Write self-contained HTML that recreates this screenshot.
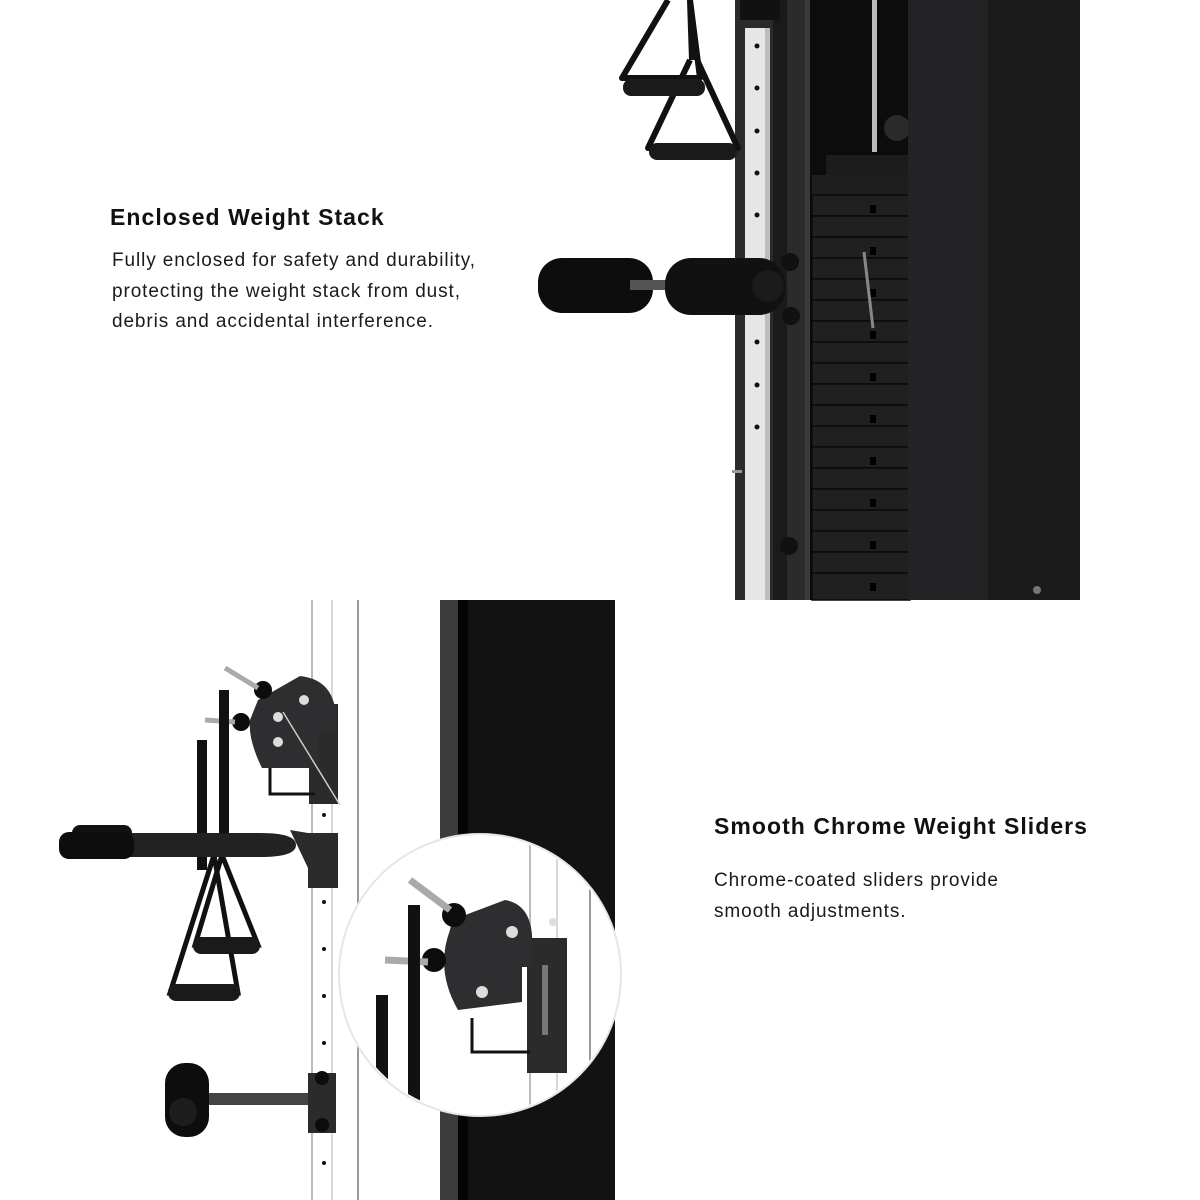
<!DOCTYPE html>
<html><head><meta charset="utf-8"><style>
html,body{margin:0;padding:0;background:#fff;}
.wrap{position:relative;width:1200px;height:1200px;overflow:hidden;background:#fff;font-family:"Liberation Sans",sans-serif;color:#111;}
svg{position:absolute;left:0;top:0;}
.h{position:absolute;font-size:23px;font-weight:bold;letter-spacing:1.05px;white-space:nowrap;}
.p{position:absolute;font-size:19px;line-height:30.5px;white-space:nowrap;color:#1a1a1a;letter-spacing:0.9px;}
</style></head><body><div class="wrap">
<svg width="1200" height="1200" viewBox="0 0 1200 1200">
<rect x="735" y="0" width="75" height="600" fill="#2b2b2d"/>
<rect x="745" y="28" width="25" height="572" fill="#e6e6e6"/>
<rect x="765" y="28" width="5" height="572" fill="#bdbdbd"/>
<rect x="773" y="0" width="14" height="600" fill="#1a1a1a"/>
<rect x="740" y="0" width="40" height="20" fill="#111"/>
<g fill="#111">
<circle cx="757" cy="46" r="2.5"/><circle cx="757" cy="88" r="2.5"/><circle cx="757" cy="131" r="2.5"/><circle cx="757" cy="173" r="2.5"/><circle cx="757" cy="215" r="2.5"/><circle cx="757" cy="300" r="2.5"/><circle cx="757" cy="342" r="2.5"/><circle cx="757" cy="385" r="2.5"/><circle cx="757" cy="427" r="2.5"/>
</g>
<rect x="805" y="0" width="5" height="600" fill="#3a3a3c"/>
<rect x="810" y="0" width="100" height="600" fill="#0c0c0c"/>
<rect x="872" y="0" width="5" height="152" fill="#bbb"/>
<circle cx="897" cy="128" r="13" fill="#2a2a2a"/>
<rect x="826" y="155" width="84" height="20" fill="#1c1c1c"/>
<rect x="812" y="175" width="98" height="20" fill="#1e1e1e"/>
<g fill="#202020" stroke="#0a0a0a" stroke-width="1.5">
<rect x="812" y="195" width="98" height="21"/><rect x="812" y="216" width="98" height="21"/><rect x="812" y="237" width="98" height="21"/><rect x="812" y="258" width="98" height="21"/><rect x="812" y="279" width="98" height="21"/><rect x="812" y="300" width="98" height="21"/><rect x="812" y="321" width="98" height="21"/><rect x="812" y="342" width="98" height="21"/><rect x="812" y="363" width="98" height="21"/><rect x="812" y="384" width="98" height="21"/><rect x="812" y="405" width="98" height="21"/><rect x="812" y="426" width="98" height="21"/><rect x="812" y="447" width="98" height="21"/><rect x="812" y="468" width="98" height="21"/><rect x="812" y="489" width="98" height="21"/><rect x="812" y="510" width="98" height="21"/><rect x="812" y="531" width="98" height="21"/><rect x="812" y="552" width="98" height="21"/><rect x="812" y="573" width="98" height="27"/>
</g>
<g fill="#000"><rect x="870" y="205" width="6" height="8"/><rect x="870" y="247" width="6" height="8"/><rect x="870" y="289" width="6" height="8"/><rect x="870" y="331" width="6" height="8"/><rect x="870" y="373" width="6" height="8"/><rect x="870" y="415" width="6" height="8"/><rect x="870" y="457" width="6" height="8"/><rect x="870" y="499" width="6" height="8"/><rect x="870" y="541" width="6" height="8"/><rect x="870" y="583" width="6" height="8"/></g>
<line x1="864" y1="252" x2="873" y2="328" stroke="#888" stroke-width="3"/>
<rect x="908" y="0" width="80" height="600" fill="#232325"/>
<rect x="988" y="0" width="92" height="600" fill="#1b1b1c"/>
<circle cx="1037" cy="590" r="4" fill="#777"/>
<g stroke="#111" stroke-width="6" fill="none" stroke-linejoin="round">
<path d="M668 0 L622 78 L700 78 L690 0"/>
<path d="M690 60 L648 148 L738 148 L698 62"/>
<line x1="690" y1="0" x2="692" y2="60"/>
</g>
<rect x="623" y="79" width="82" height="17" rx="8" fill="#1a1a1a"/>
<rect x="649" y="143" width="88" height="17" rx="8" fill="#1a1a1a"/>
<rect x="538" y="258" width="115" height="55" rx="24" fill="#0d0d0d"/>
<rect x="630" y="280" width="45" height="10" fill="#555"/>
<rect x="665" y="258" width="120" height="57" rx="26" fill="#111"/>
<circle cx="768" cy="286" r="16" fill="#1b1b1b"/>
<circle cx="790" cy="262" r="9" fill="#111"/><circle cx="791" cy="316" r="9" fill="#111"/><circle cx="789" cy="546" r="9" fill="#111"/>
<rect x="732" y="470" width="10" height="3" fill="#999"/>

<line x1="312" y1="600" x2="312" y2="1200" stroke="#bbb" stroke-width="2"/>
<line x1="332" y1="600" x2="332" y2="1200" stroke="#ccc" stroke-width="1.5"/>
<line x1="358" y1="600" x2="358" y2="1200" stroke="#999" stroke-width="2"/>
<g fill="#111"><circle cx="324" cy="815" r="2"/><circle cx="324" cy="902" r="2"/><circle cx="324" cy="949" r="2"/><circle cx="324" cy="996" r="2"/><circle cx="324" cy="1043" r="2"/><circle cx="324" cy="1163" r="2"/></g>
<rect x="440" y="600" width="175" height="600" fill="#121212"/>
<rect x="440" y="600" width="18" height="600" fill="#3c3c3e"/>
<rect x="458" y="600" width="10" height="600" fill="#050505"/>
<rect x="309" y="704" width="29" height="100" fill="#2b2b2b"/>
<path d="M258 700 L300 676 Q336 680 336 720 L336 732 L318 732 L318 768 L262 768 Q248 740 250 720 Z" fill="#2e2e30"/>
<circle cx="304" cy="700" r="5" fill="#ddd"/><circle cx="278" cy="717" r="5" fill="#ddd"/><circle cx="278" cy="742" r="5" fill="#ddd"/>
<path d="M270 768 L270 794 L315 794" stroke="#111" stroke-width="3" fill="none"/>
<circle cx="263" cy="690" r="9" fill="#0c0c0c"/><circle cx="241" cy="722" r="9" fill="#0c0c0c"/>
<line x1="225" y1="668" x2="258" y2="688" stroke="#aaa" stroke-width="5"/>
<line x1="205" y1="720" x2="235" y2="722" stroke="#aaa" stroke-width="5"/>
<line x1="283" y1="712" x2="340" y2="805" stroke="#ccc" stroke-width="1.5"/>
<rect x="219" y="690" width="10" height="160" fill="#111"/>
<rect x="197" y="740" width="10" height="130" fill="#111"/>
<g stroke="#111" stroke-width="5" fill="none"><path d="M214 855 L170 993 L238 993 Z"/><path d="M222 855 L195 945 L258 945 Z"/></g>
<rect x="193" y="937" width="67" height="17" rx="8" fill="#1a1a1a"/>
<rect x="168" y="984" width="72" height="17" rx="8" fill="#1a1a1a"/>
<path d="M120 833 L260 833 Q296 833 296 845 Q296 857 260 857 L120 857 Z" fill="#222"/>
<rect x="72" y="825" width="60" height="18" rx="8" fill="#111"/>
<rect x="59" y="832" width="75" height="27" rx="10" fill="#0d0d0d"/>
<rect x="308" y="833" width="30" height="55" fill="#2b2b2b"/>
<path d="M290 830 L308 833 L308 868 Z" fill="#2b2b2b"/>
<rect x="205" y="1093" width="105" height="12" fill="#444"/>
<rect x="308" y="1073" width="28" height="60" fill="#2b2b2b"/>
<circle cx="322" cy="1078" r="7" fill="#0c0c0c"/><circle cx="322" cy="1125" r="7" fill="#0c0c0c"/>
<rect x="165" y="1063" width="44" height="74" rx="20" fill="#0d0d0d"/>
<circle cx="183" cy="1112" r="14" fill="#1d1d1d"/>
<circle cx="480" cy="975" r="141" fill="#fff" stroke="#e6e6e6" stroke-width="2"/>
<clipPath id="cc"><circle cx="480" cy="975" r="139"/></clipPath>
<g clip-path="url(#cc)">
<line x1="530" y1="840" x2="530" y2="1120" stroke="#bbb" stroke-width="2"/>
<line x1="557" y1="840" x2="557" y2="1120" stroke="#ccc" stroke-width="1.5"/>
<line x1="590" y1="840" x2="590" y2="1120" stroke="#999" stroke-width="2"/>
<rect x="527" y="938" width="40" height="135" fill="#2b2b2b"/>
<path d="M452 920 L505 900 Q535 905 532 950 L532 967 L522 967 L522 1002 L458 1010 Q435 970 450 930 Z" fill="#2e2e30"/>
<circle cx="512" cy="932" r="6" fill="#ddd"/><circle cx="482" cy="992" r="6" fill="#ddd"/><circle cx="553" cy="922" r="4" fill="#ddd"/>
<path d="M472 1018 L472 1052 L530 1052" stroke="#111" stroke-width="3" fill="none"/>
<rect x="542" y="965" width="6" height="70" fill="#777"/>
<circle cx="454" cy="915" r="12" fill="#0c0c0c"/><circle cx="434" cy="960" r="12" fill="#0c0c0c"/>
<line x1="410" y1="880" x2="450" y2="910" stroke="#aaa" stroke-width="7"/>
<line x1="385" y1="960" x2="428" y2="962" stroke="#aaa" stroke-width="7"/>
<rect x="408" y="905" width="12" height="220" fill="#111"/>
<rect x="376" y="995" width="12" height="130" fill="#111"/>
</g>
</svg>
<div class="h" style="left:110px;top:204px;">Enclosed Weight Stack</div>
<div class="p" style="left:112px;top:246px;">Fully enclosed for safety and durability,<br>protecting the weight stack from dust,<br>debris and accidental interference.</div>
<div class="h" style="left:714px;top:813px;">Smooth Chrome Weight Sliders</div>
<div class="p" style="left:714px;top:866px;">Chrome-coated sliders provide<br>smooth adjustments.</div>
</div></body></html>
